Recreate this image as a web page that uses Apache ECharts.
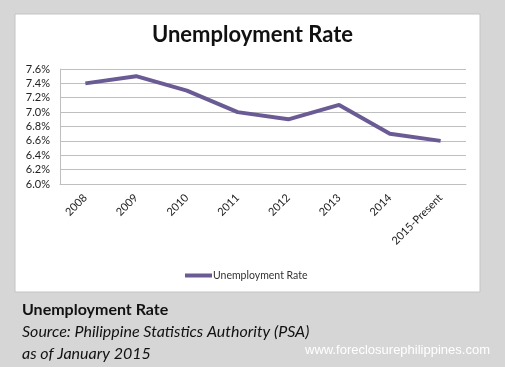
<!DOCTYPE html>
<html><head><meta charset="utf-8">
<script src="https://cdn.jsdelivr.net/npm/echarts@6/dist/echarts.min.js"></script>
<style>html,body{margin:0;padding:0;background:#d6d6d6;}#c{width:505px;height:367px;}</style>
</head><body><div id="c"></div>
<script>
const categories = ['2008','2009','2010','2011','2012','2013','2014','2015-Present'];
const rates = [7.4, 7.5, 7.3, 7.0, 6.9, 7.1, 6.7, 6.6];
const yTicks = [6.0, 6.2, 6.4, 6.6, 6.8, 7.0, 7.2, 7.4, 7.6];
const seriesName = 'Unemployment Rate';

const chart = echarts.init(document.getElementById('c'));
const font = 'Lato, "Open Sans", sans-serif';
chart.setOption({
  backgroundColor: '#d6d6d6',
  animation: false,
  graphic: [
    {type:'rect', shape:{x:15,y:14,width:465,height:278}, style:{fill:'#ffffff', stroke:'#c4c4c4', lineWidth:1}, z:-10},
    {type:'text', left:22, top:302, style:{text:'Unemployment Rate', font:'bold 16px '+font, fill:'#111'}},
    {type:'text', left:22, top:324, style:{text:'Source: Philippine Statistics Authority (PSA)', font:'italic 16px '+font, fill:'#111'}},
    {type:'text', left:22, top:346, style:{text:'as of January 2015', font:'italic 16px '+font, fill:'#111'}},
    {type:'text', left:305, top:344, style:{text:'www.foreclosurephilippines.com', font:'13px "Liberation Sans", Arial, sans-serif', fill:'#ffffff'}}
  ],
  title: {text:'Unemployment Rate', left:'center', top:19, textStyle:{fontFamily:font, fontWeight:'bold', fontSize:22, color:'#111'}},
  legend: {data:[seriesName], left:180, top:265, itemWidth:27, itemHeight:4, itemGap:2, icon:'rect',
    textStyle:{fontFamily:font, fontSize:10.5, color:'#333', padding:[0,0,0,-4]}},
  grid: {left:60, right:39, top:69, bottom:183},
  xAxis: {type:'category', data:categories, boundaryGap:true,
    axisLine:{lineStyle:{color:'#bfbfbf'}}, axisTick:{show:false},
    axisLabel:{rotate:45, fontFamily:font, fontSize:11, color:'#222', margin:12, interval:0}},
  yAxis: {type:'value', min:yTicks[0], max:yTicks[yTicks.length-1], interval:0.2,
    axisLine:{show:true, lineStyle:{color:'#bfbfbf'}}, axisTick:{show:false},
    splitLine:{lineStyle:{color:'#bfbfbf', width:1}},
    axisLabel:{fontFamily:font, fontSize:11, color:'#222', margin:10, formatter:v=>v.toFixed(1)+'%'}},
  series: [{name:seriesName, type:'line', data:rates, symbol:'none', lineStyle:{color:'#6b5b95', width:4}, itemStyle:{color:'#6b5b95'}}]
});
</script></body></html>
